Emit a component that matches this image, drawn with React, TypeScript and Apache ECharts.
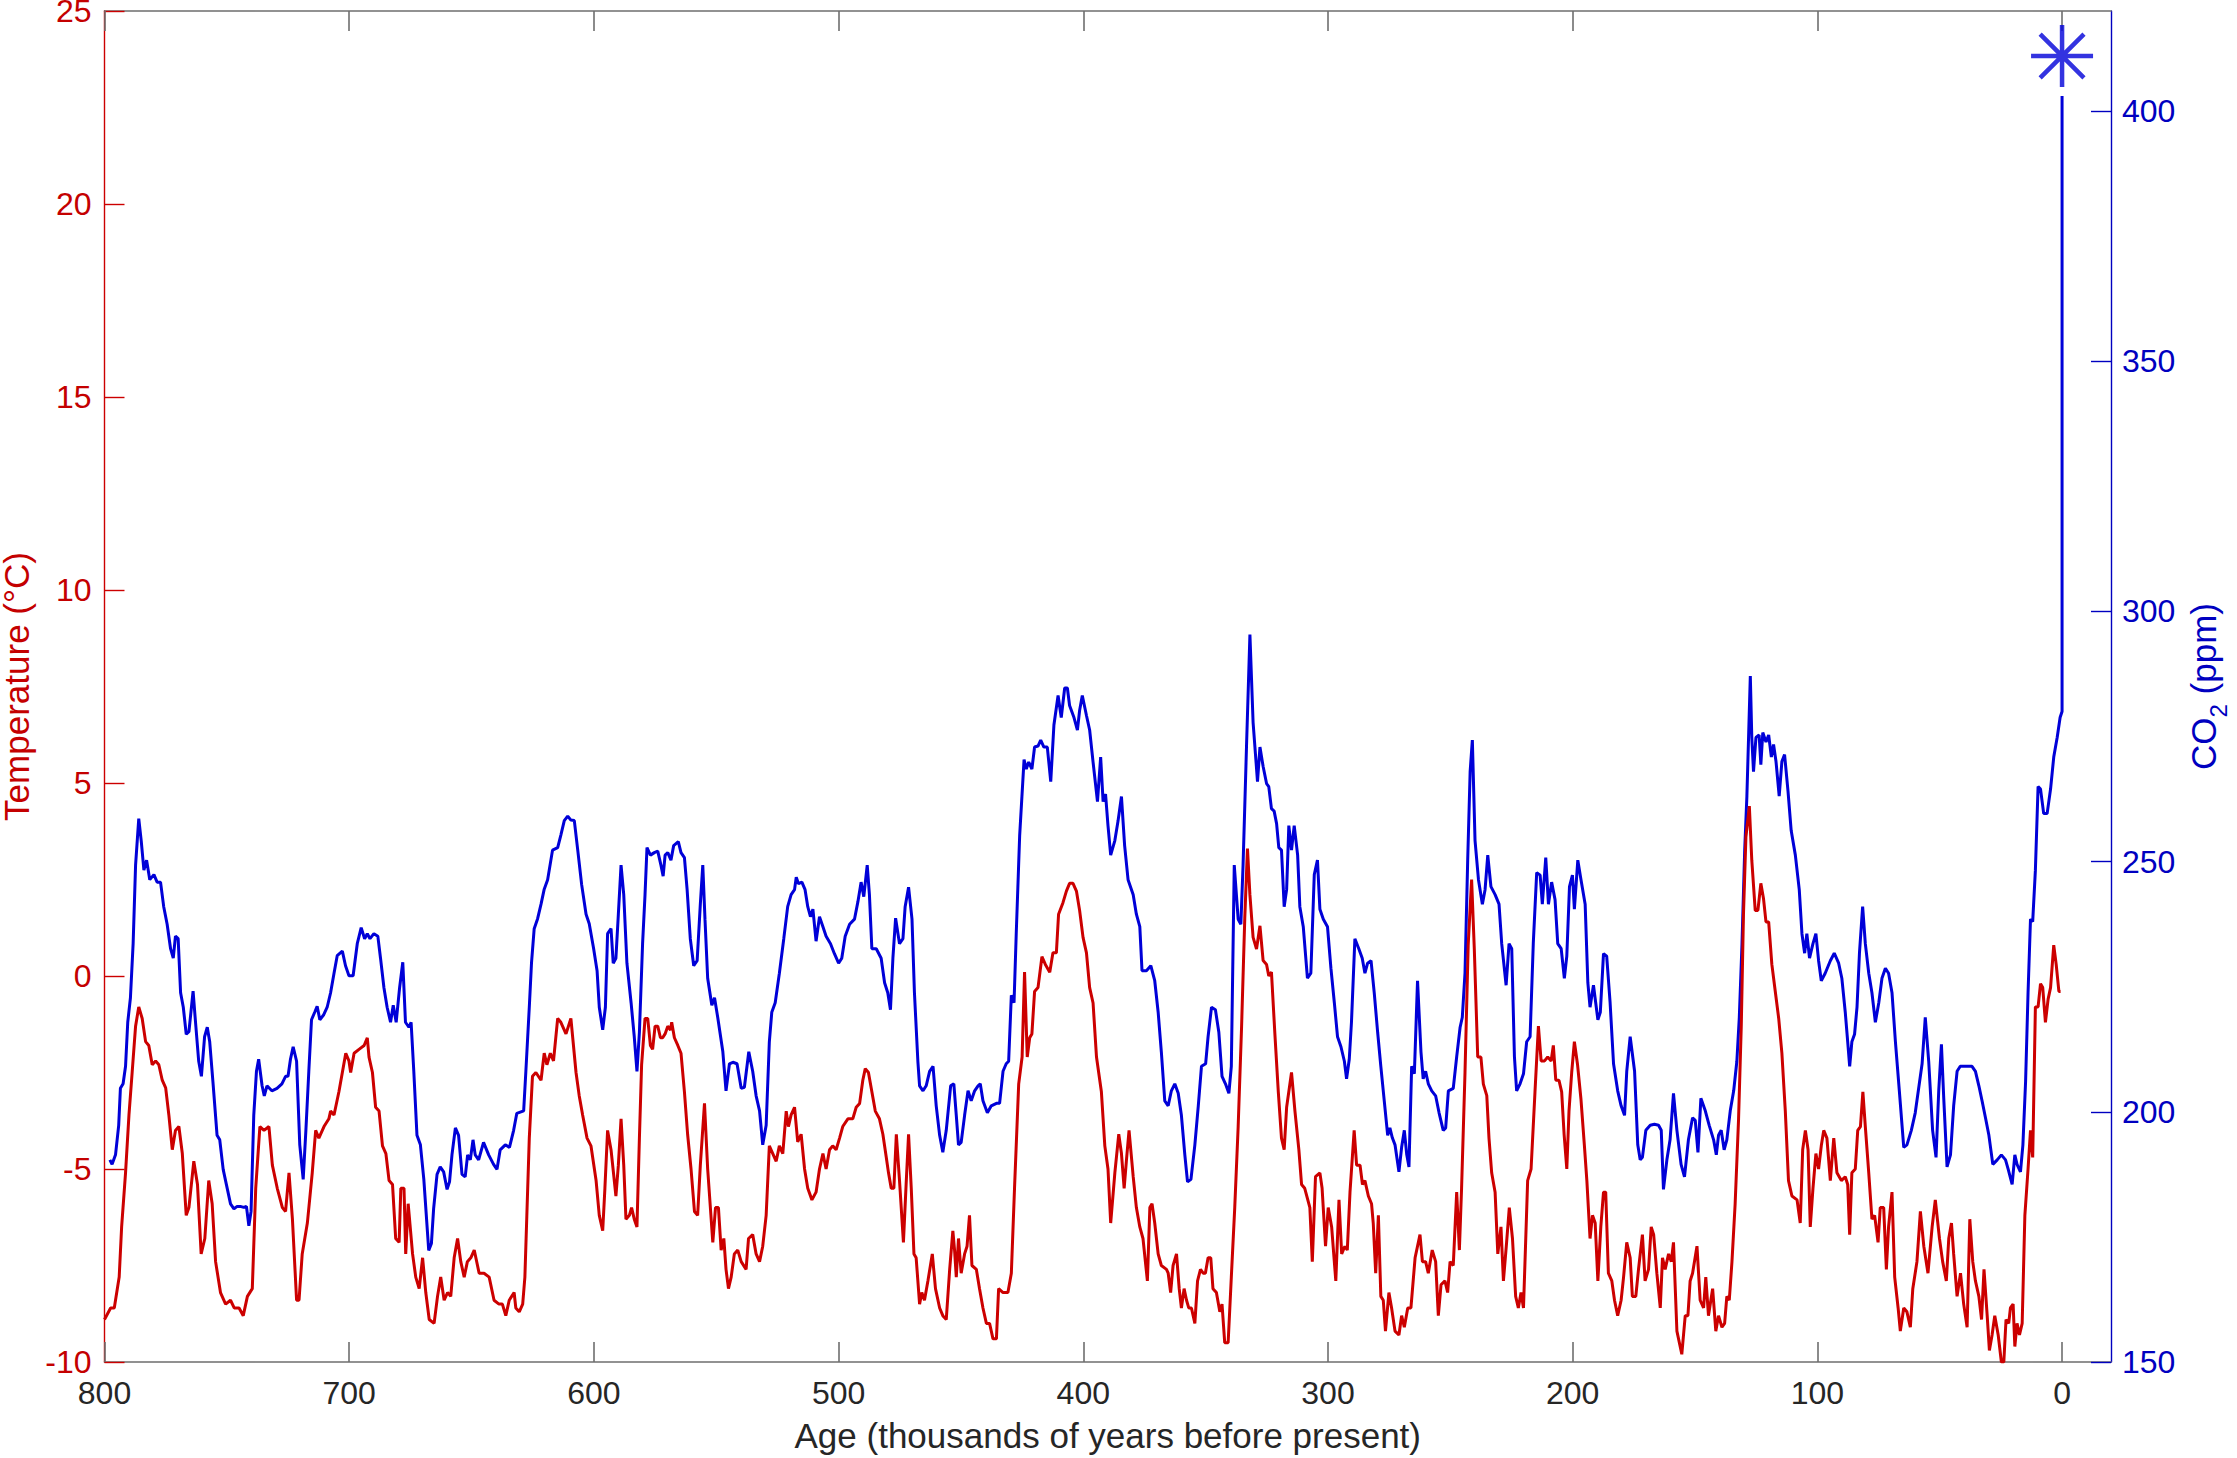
import React, { useEffect, useRef } from "react";
import * as echarts from "echarts";

// ---------- data (age in kyr BP, value) ----------
const xTicks = [0, 100, 200, 300, 400, 500, 600, 700, 800];
const co2Ticks = [150, 200, 250, 300, 350, 400];

const temp800to632 = [
  [800,-8.9],[797.5,-8.6],[796,-8.6],[794,-7.8],[793,-6.5],[791.4,-5.1],[790,-3.6],[788.7,-2.5],[787.3,-1.3],[786,-0.8],[784.6,-1.1],[783.2,-1.7],[781.9,-1.8],[780.5,-2.3],[779.1,-2.2],[777.8,-2.3],[776.4,-2.7],[775,-2.9],[773.7,-3.6],[772.3,-4.5],[771,-4.0],[769.6,-3.9],[768.2,-4.6],[766.6,-6.2],[765.5,-6.0],[763.5,-4.8],[762,-5.4],[760.5,-7.2],[759,-6.8],[757.4,-5.3],[756,-5.9],[754.6,-7.4],[752.6,-8.2],[750.5,-8.5],[748.5,-8.4],[747,-8.6],[745,-8.6],[743.3,-8.8],[741.6,-8.3],[739.6,-8.1],[738.2,-5.5],[736.5,-3.9],[734.8,-4.0],[732.8,-3.9],[731.4,-4.9],[729.4,-5.5],[727.3,-6.0],[726,-6.1],[724.6,-5.1],[723.2,-6.3],[721.5,-8.4],[720.5,-8.4],[719.2,-7.2],[717.1,-6.4],[715.1,-5.1],[713.7,-4.0],[712.4,-4.2],[710.3,-3.9],[708.3,-3.7],[707.6,-3.5],[706.2,-3.6],[704.2,-3.0],[701.4,-2.0],[700.1,-2.2],[699.4,-2.5],[698,-2.0],[696,-1.9],[693.9,-1.8],[692.6,-1.6],[691.9,-2.1],[690.5,-2.5],[689.2,-3.4],[687.8,-3.5],[686.4,-4.4],[685,-4.6],[683.7,-5.3],[682.3,-5.4],[681,-6.8],[679.6,-6.9],[678.9,-5.5],[677.6,-5.5],[676.9,-7.2],[675.9,-5.9],[674.1,-7.2],[672.8,-7.8],[671.4,-8.1],[670,-7.3],[668.7,-8.2],[667.3,-8.9],[665.3,-9.0],[663.9,-8.3],[662.6,-7.8],[661.2,-8.4],[659.8,-8.2],[658.5,-8.3],[657.1,-7.3],[655.7,-6.8],[654.4,-7.4],[653,-7.8],[651.7,-7.4],[650.3,-7.3],[648.9,-7.1],[646.9,-7.7],[644.9,-7.7],[642.8,-7.8],[640.8,-8.4],[638.8,-8.5],[637.4,-8.5],[636,-8.8],[634.6,-8.4],[632.6,-8.2]
];
const temp632to471 = [
  [631.9,-8.6],[630.5,-8.7],[629.1,-8.5],[628.2,-7.8],[627.4,-6.2],[626.4,-4.2],[625.1,-2.6],[623.7,-2.5],[621.6,-2.7],[620.3,-2.0],[619.2,-2.3],[617.8,-2.0],[616.5,-2.2],[614.8,-1.1],[613.5,-1.2],[611.4,-1.5],[609.4,-1.1],[607.3,-2.5],[606,-3.1],[604.6,-3.6],[602.8,-4.2],[601.2,-4.4],[599.1,-5.3],[597.8,-6.2],[596.4,-6.6],[595.5,-5.5],[594.4,-4.0],[593,-4.5],[591,-5.7],[590,-4.9],[588.9,-3.7],[587.8,-4.9],[586.9,-6.3],[585.5,-6.2],[584.6,-6.0],[583.5,-6.3],[582.4,-6.5],[581.4,-4.2],[580.5,-2.3],[579.1,-1.1],[578,-1.1],[576.9,-1.8],[576,-1.9],[575,-1.3],[573.9,-1.3],[572.8,-1.6],[571.9,-1.6],[570.9,-1.5],[569.8,-1.3],[568.7,-1.4],[568.2,-1.2],[567.1,-1.6],[565.7,-1.8],[564.4,-2.0],[563,-3.0],[561.7,-4.1],[560.3,-5.0],[558.9,-6.1],[557.6,-6.2],[556.5,-4.9],[554.8,-3.3],[553.5,-5.0],[551.4,-6.9],[550.3,-6.0],[549.1,-6.0],[548,-7.1],[546.9,-6.8],[546,-7.6],[545,-8.1],[543.9,-7.8],[542.6,-7.2],[541.2,-7.1],[539.8,-7.4],[537.8,-7.6],[536.8,-6.8],[535.1,-6.7],[533.7,-7.2],[532.3,-7.4],[531,-7.0],[529.6,-6.2],[528.3,-4.4],[526.9,-4.6],[525.5,-4.8],[524.2,-4.4],[522.8,-4.6],[521.4,-3.5],[520.5,-3.9],[519.4,-3.6],[518,-3.4],[516.7,-4.3],[515.3,-4.1],[513.9,-5.0],[512.6,-5.5],[510.9,-5.8],[509.2,-5.6],[507.8,-5.0],[506.4,-4.6],[505.1,-5.0],[503.7,-4.5],[502.4,-4.4],[501,-4.5],[499.6,-4.2],[498.3,-3.9],[496.2,-3.7],[494.2,-3.7],[492.8,-3.4],[491.4,-3.3],[490.1,-2.7],[489.1,-2.4],[487.8,-2.5],[486.4,-3.0],[485,-3.5],[483.3,-3.7],[481.9,-4.1],[480.5,-4.7],[479.6,-5.1],[478.5,-5.5],[477.4,-5.5],[476.4,-4.1],[475.1,-5.3],[473.5,-6.9],[472.4,-5.4],[471.4,-4.1]
];
const temp470to305 = [
  [470.3,-5.5],[469.2,-7.2],[468.3,-7.3],[466.9,-8.5],[466,-8.2],[464.9,-8.4],[463.5,-7.9],[461.7,-7.2],[460.4,-8.1],[458.7,-8.6],[457.4,-8.8],[456,-8.9],[454.6,-7.6],[453.3,-6.6],[452.6,-7.1],[451.9,-7.8],[451,-6.8],[449.9,-7.7],[448.5,-7.2],[447.5,-7.0],[446.5,-6.2],[445.5,-7.5],[443.7,-7.6],[442.4,-8.1],[441,-8.6],[439.6,-9.0],[438.3,-9.0],[436.9,-9.4],[435.5,-9.4],[434.6,-8.1],[432.8,-8.2],[430.8,-8.2],[429.4,-7.7],[428.1,-5.5],[426.4,-2.8],[425,-2.1],[424,0.1],[422.9,-2.1],[421.9,-1.6],[421,-1.5],[419.9,-0.4],[418.5,-0.3],[416.9,0.5],[415.5,0.3],[413.7,0.1],[412.4,0.6],[411,0.6],[410.1,1.6],[408.3,1.9],[406.9,2.2],[405.6,2.4],[404.2,2.4],[402.8,2.2],[401.5,1.7],[400.1,1.0],[398.7,0.6],[397.4,-0.3],[396,-0.7],[394.6,-2.1],[392.6,-3.0],[391.2,-4.4],[389.9,-5.0],[388.8,-6.4],[387.1,-5.1],[385.5,-4.1],[384.4,-4.6],[383.3,-5.5],[382.4,-4.8],[381.3,-4.0],[379.6,-5.2],[378.3,-6.0],[376.9,-6.5],[375.6,-6.8],[373.8,-7.9],[372.8,-6.0],[371.9,-5.9],[370.8,-6.4],[369.4,-7.2],[368.1,-7.5],[366,-7.6],[365.3,-7.7],[364.3,-8.2],[363.3,-7.5],[361.9,-7.2],[360.8,-8.1],[359.9,-8.6],[358.8,-8.1],[357.8,-8.4],[356.9,-8.6],[355.8,-8.6],[354.4,-9.0],[353.3,-7.9],[352.1,-7.6],[351,-7.7],[350.1,-7.7],[349,-7.3],[347.9,-7.3],[347,-8.1],[345.6,-8.2],[344.2,-8.7],[343.3,-8.5],[342.2,-9.5],[340.8,-9.5],[339.5,-7.8],[338.1,-6.0],[336.7,-3.9],[335.3,-1.3],[334,1.5],[332.9,3.3],[331.9,2.1],[330.6,1.0],[329.2,0.7],[327.8,1.3],[326.5,0.4],[325.1,0.3],[324.2,0.0],[323.1,0.1],[321.7,-1.5],[320.3,-3.0],[319,-4.2],[317.9,-4.5],[316.9,-3.4],[314.9,-2.5],[313.5,-3.5],[311.9,-4.5],[310.8,-5.4],[309.5,-5.5],[307.4,-6.0],[306.4,-7.4],[305.1,-5.2]
];
const temp303to141 = [
  [303.3,-5.1],[302.4,-5.5],[301,-7.0],[299.9,-6.0],[298.5,-6.5],[296.8,-7.9],[295.5,-5.8],[294.4,-7.2],[293.1,-7.0],[292.1,-7.1],[291,-5.6],[289.3,-4.0],[288.3,-4.9],[286.9,-4.9],[285.9,-5.4],[284.9,-5.3],[283.5,-5.7],[282.2,-5.9],[281.5,-6.4],[280.5,-7.7],[279.4,-6.2],[278.4,-8.3],[277.4,-8.4],[276.5,-9.2],[275.1,-8.2],[274,-8.6],[272.6,-9.2],[271,-9.3],[269.9,-8.8],[268.8,-9.1],[267.4,-8.6],[266.1,-8.6],[264.4,-7.3],[262.4,-6.7],[261.4,-7.4],[260.1,-7.4],[259,-7.7],[257.4,-7.1],[256,-7.4],[254.9,-8.8],[253.8,-8.0],[252.2,-7.9],[251.1,-8.2],[250.1,-7.4],[248.8,-7.5],[247.4,-5.6],[246.3,-7.1],[245.4,-5.5],[244,-2.5],[242.7,0.8],[241.3,2.5],[240.2,0.7],[238.8,-2.1],[237.5,-2.1],[236.5,-2.8],[235.1,-3.1],[234.2,-4.2],[233.1,-5.1],[231.7,-5.6],[230.6,-7.2],[229.3,-6.5],[228.3,-7.9],[227,-6.9],[225.9,-6.0],[224.6,-6.8],[223.3,-8.3],[222.2,-8.6],[221.1,-8.2],[220.1,-8.6],[218.4,-5.3],[217,-5.0],[215.4,-3.0],[214,-1.3],[212.9,-2.2],[211.5,-2.2],[210.2,-2.1],[208.8,-2.2],[207.9,-1.8],[206.9,-2.7],[205.6,-2.7],[204.5,-3.0],[203.5,-4.1],[202.4,-5.0],[201.5,-3.5],[200.4,-2.5],[199.3,-1.7],[198,-2.3],[196.6,-3.2],[195.2,-4.4],[194.2,-5.3],[192.9,-6.8],[191.9,-6.2],[190.8,-6.4],[189.7,-7.9],[188.5,-6.5],[187.4,-5.6],[186.5,-5.6],[185.4,-7.7],[184,-7.9],[182.9,-8.4],[181.6,-8.8],[180.2,-8.4],[179.2,-7.8],[177.9,-6.9],[176.5,-7.3],[175.6,-8.3],[174.2,-8.3],[173.1,-7.6],[171.5,-6.7],[170.4,-7.9],[169,-7.6],[167.9,-6.5],[166.9,-6.7],[165.6,-7.7],[164.2,-8.6],[163.3,-7.3],[162.2,-7.6],[160.8,-7.2],[159.7,-7.4],[158.8,-6.9],[157.4,-9.2],[155.4,-9.8],[154,-8.8],[152.9,-8.8],[152,-7.9],[151,-7.7],[149.2,-7.0],[147.9,-8.4],[146.5,-8.6],[145.6,-7.8],[144.5,-8.8],[142.8,-8.1],[141.5,-9.2]
];
const temp140to0 = [
  [140.4,-8.8],[139,-9.1],[137.9,-9.0],[137,-8.3],[136,-8.4],[134.9,-7.4],[133.6,-5.9],[132.2,-3.7],[131.1,-1.3],[130.2,1.6],[129.2,3.6],[127.8,4.4],[126.8,3.0],[125.4,1.7],[124.3,1.7],[123.1,2.4],[122,2.0],[121,1.4],[119.9,1.4],[118.6,0.3],[117.2,-0.4],[115.8,-1.1],[114.5,-2.0],[113.1,-3.5],[111.8,-5.3],[110.4,-5.7],[108.3,-5.8],[107,-6.4],[106,-4.5],[104.9,-4.0],[103.8,-4.5],[102.9,-6.5],[101.8,-5.5],[100.6,-4.6],[99.5,-5.0],[98.4,-4.4],[97.4,-4.0],[96.1,-4.2],[94.7,-5.3],[93.3,-4.2],[92,-5.1],[90.2,-5.3],[88.6,-5.2],[87.6,-5.4],[86.8,-6.7],[85.9,-5.1],[84.5,-5.0],[83.5,-4.0],[82.4,-3.9],[81.4,-3.0],[80.4,-3.9],[79,-5.1],[77.7,-6.3],[76.6,-6.2],[75.2,-6.9],[74.3,-6.0],[72.9,-6.0],[71.8,-7.6],[70.9,-6.5],[69.5,-5.6],[68.4,-7.8],[67,-8.6],[66.1,-9.2],[64.7,-8.6],[63.4,-8.7],[62,-9.1],[61,-8.1],[59.3,-7.4],[57.9,-6.1],[56.5,-7.0],[54.8,-7.7],[53.1,-6.5],[51.8,-5.8],[50.1,-6.8],[48.8,-7.4],[47.3,-7.9],[46.3,-6.8],[45.2,-6.4],[44.3,-7.2],[42.9,-8.3],[41.5,-7.7],[40.2,-8.5],[38.8,-9.1],[37.7,-6.3],[36.5,-7.4],[35.4,-7.9],[34,-8.3],[32.9,-8.9],[31.9,-7.6],[30.6,-8.8],[29.7,-9.7],[28.6,-9.3],[27.5,-8.8],[26.1,-9.3],[24.8,-10],[23.8,-10],[22.9,-8.9],[21.8,-9.0],[21.1,-8.6],[20,-8.5],[19.3,-9.6],[18.4,-9.0],[17.4,-9.3],[16.3,-9.0],[15.2,-6.2],[13.9,-5.0],[12.9,-4.0],[12,-4.7],[10.9,-0.8],[9.8,-0.8],[8.8,-0.2],[7.9,-0.3],[6.8,-1.2],[5.7,-0.6],[4.7,-0.3],[3.4,0.8],[2.4,0.3],[1.3,-0.4],[0.6,-0.4]
];

const co2798to632 = [
  [797.8,190.4],[796.9,189.5],[795.5,191.4],[794.2,197.3],[793.5,204.7],[792.4,205.6],[791.4,209.1],[790.5,217.9],[789.4,222.8],[788.3,233.6],[787.3,249.3],[786,258.6],[785,254.2],[783.9,248.3],[782.8,250.3],[781.5,246.4],[779.8,247.4],[778.5,245.9],[777.1,245.9],[775.8,241],[774.4,237.5],[773,232.6],[771.9,230.7],[771,235.1],[769.9,234.6],[768.9,223.8],[767.8,220.9],[766.6,215.5],[765.5,216],[763.8,224.1],[762.8,217.9],[761.5,210.1],[760.4,207.1],[759.1,215],[758,216.9],[757,214],[755.7,206.1],[754,195.3],[752.9,194.4],[751.5,188.5],[750.2,185.5],[748.5,181.6],[747.1,180.6],[745.8,181.1],[744.5,181.1],[743.1,180.9],[742,181.1],[741,177.2],[740.1,180.1],[739,199.3],[737.9,208.1],[737,210.5],[735.6,205.2],[734.7,203.2],[733.6,205.2],[731.6,204.2],[729.5,204.7],[727.5,205.6],[726,207.1],[725,207.1],[724,210.5],[722.9,213],[721.5,210.1],[720.2,193.4],[718.8,186.5],[717.7,196.3],[716.5,208.1],[715.4,218.4],[714.1,219.9],[713.1,221.1],[712,218.4],[710.4,219.4],[709,220.9],[707.6,223.8],[706.2,227.7],[704.9,231.2],[702.8,232.1],[701.5,229.2],[700.1,227.2],[698.4,227.2],[696.7,233.6],[695.1,236.8],[693.7,234.6],[692.6,235.6],[691.5,234.6],[689.9,235.6],[688.3,235.1],[687.2,230.7],[685.8,224.8],[684.5,220.9],[683.1,217.9],[682,221.3],[680.8,217.9],[679.4,224.8],[678.1,229.9],[677,217.9],[675.6,216.9],[674.7,217.9],[673.6,208.1],[672.3,195.3],[670.9,193.4],[669.5,186.5],[667.5,172.3],[666.4,173.7],[665.5,180.6],[664.1,187.5],[662.8,189],[661.4,188],[660,184.5],[659,186],[658,191.4],[656.6,196.8],[655.3,195.3],[653.9,187.5],[652.6,187],[651.6,191.4],[650.5,190.4],[649.4,194.4],[648.5,191.4],[647.1,190.4],[645.1,193.9],[643,191.4],[641,189.5],[639.6,188.5],[638.3,192.4],[636.2,193.4],[634.5,192.9],[632.8,196.3],[631.5,199.7]
];
const co2629to470 = [
  [628.7,200.2],[627.8,208.1],[626.4,220.9],[625.5,229.7],[624.4,236.6],[623,238.6],[621.6,241.5],[620.3,244.5],[618.9,246.4],[616.9,252.3],[614.8,252.8],[613.5,255.3],[612.1,258.2],[610.7,259.1],[609.4,258.3],[608,258.2],[606.6,252.3],[605,245.4],[603.2,239.5],[601.9,237.6],[600.1,232.6],[598.7,228.2],[597.8,220.9],[596.4,216.4],[595.3,220.9],[594.4,235.6],[593,236.6],[592.1,229.7],[591,230.7],[590,239.5],[588.9,249.3],[587.8,243.4],[586.5,229.7],[584.8,221.8],[583.5,215],[582.4,208.1],[581.4,215.9],[580.1,233.6],[579.1,243.4],[578.3,252.8],[576.9,251.3],[575.3,251.8],[573.9,252.1],[572.6,249.3],[571.7,247.1],[570.9,251.3],[569.8,251.8],[568.5,250.3],[567.4,253.2],[565.5,254],[564.4,251.8],[563,250.8],[561.9,244.4],[560.6,234.6],[559.2,229.2],[557.8,230.2],[556.5,241.5],[555.5,249.3],[554.6,238.5],[553.5,226.7],[551.8,221.3],[550.7,222.8],[549.4,218.9],[547.3,212],[546,204.2],[544.6,209.6],[543.2,209.9],[541.5,209.6],[539.8,204.7],[538.5,204.9],[536.7,212],[535.1,208.1],[533.7,203.2],[532.3,200.2],[531,193.4],[529.6,197.3],[528.3,214],[527.3,219.9],[525.9,221.8],[524.2,227.7],[522.4,234.6],[520.8,241],[519.4,243.4],[518,244.4],[517.3,246.9],[516.4,245.6],[515,245.9],[513.7,244.4],[512.6,241],[511.5,239],[510.5,240.5],[509.2,234.1],[507.8,239],[506.4,237],[505.1,235.1],[503.3,233.6],[501.7,231.6],[500,229.7],[498.7,230.7],[497.3,235.1],[495.5,237.5],[493.5,238.5],[492.1,242],[490.8,245.9],[489.7,243],[488.3,249.3],[487.4,243.4],[486.4,232.6],[484.6,232.6],[482.6,230.7],[481.2,225.8],[479.9,223.8],[478.8,220.4],[477.8,230.7],[476.7,238.7],[475.1,233.6],[473.7,234.6],[472.8,241],[471.4,244.9],[470,238.5]
];
const co2469to304 = [
  [469,223.8],[467.6,210.1],[466.9,205.2],[465.5,204.2],[464.2,205.2],[462.8,208.1],[461.4,209.1],[460.1,201.2],[458.7,195.3],[457.4,191.9],[456,196.3],[454.2,205.2],[452.9,205.6],[451.9,199.3],[451,193.4],[449.9,193.9],[448.5,199.3],[447.1,204.2],[445.8,202.2],[444.4,204.2],[443,205.2],[442.1,205.6],[441,202.2],[439.2,199.8],[437.6,201.2],[435.5,201.7],[434.2,201.7],[432.8,208.1],[431.5,209.6],[430.5,210.1],[429.4,223.3],[428.3,221.8],[427.4,235.6],[426,255.2],[424.2,270.4],[423.3,268.5],[422.3,269.9],[421,268.5],[419.9,272.9],[418.5,273.1],[417.4,274.3],[416.1,272.9],[414.7,272.9],[413.3,266],[412,277.3],[410.3,283.2],[409,278.8],[407.6,284.7],[406.5,284.7],[405.6,281.2],[403.8,278.8],[402.4,276.3],[401.5,280.2],[400.4,283.2],[398.7,279.2],[397.4,276.3],[396,269.9],[394.2,262],[392.9,270.9],[391.9,262],[390.9,263.5],[389.9,257.2],[388.8,251.3],[387.1,254.2],[385.8,258.1],[384.4,263],[383.1,253.2],[381.7,246.4],[379.6,243.4],[378.3,239.5],[376.9,237],[376,228.2],[374.2,228.2],[372.4,229.2],[370.8,226.2],[369.4,219.9],[368.1,212],[366.7,202.2],[365.3,201.2],[364,204.2],[362.6,205.6],[361.2,203.7],[359.9,199.3],[358.5,191.4],[357.4,186],[356,186.5],[354.4,193.4],[353,201.2],[351.7,209.1],[350,209.6],[349,215],[347.6,220.9],[346,220.4],[344.6,215.9],[343.3,207.1],[341.9,205.6],[340.5,203.7],[339.5,209.1],[338.3,249.3],[336.7,238.5],[335.6,237.5],[334.7,249.3],[333.3,272.9],[331.9,295.4],[330.6,277.8],[328.8,266],[327.8,272.9],[326.5,269],[325.1,265.6],[324.2,265],[323.1,260.6],[322,260.1],[321,257.6],[320.1,252.8],[319,252.3],[317.9,241],[316.9,244.4],[316,257.2],[314.9,252.3],[313.8,257.2],[312.4,251.3],[311.5,241],[310.1,237],[308.4,226.7],[307,227.7],[305.6,247.4],[304.3,250.3]
];
const co2303to141 = [
  [303.3,240.5],[301.9,238.5],[300.2,237],[298.8,228.7],[297.4,221.8],[296.1,215],[294.7,213],[293.3,210.1],[292.4,206.6],[291.3,210.5],[290.4,217.9],[289,234.6],[287.4,232.6],[286,230.7],[284.9,227.7],[283.8,229.7],[282.4,230.2],[281.1,223.8],[279.7,215.9],[278.4,209.1],[277,202.2],[275.6,195.3],[274.7,196.8],[273.7,194.8],[272.6,193.4],[271,188],[269.9,192.9],[268.8,196.3],[267.8,191.4],[266.9,189],[265.8,209.1],[264.7,207.6],[263.4,226.2],[262,212],[261.1,206.6],[260.1,208.1],[259,205.6],[257.6,204.2],[256,203.2],[254.6,199.8],[252.9,196.3],[251.9,196.8],[250.8,204.2],[248.8,204.7],[247.4,211],[246,216.9],[245.1,218.9],[244,227.7],[242.9,250.3],[241.9,268],[241,274.3],[239.9,254.2],[238.5,246.4],[236.9,241.5],[235.8,244.4],[234.7,251.3],[233.4,245],[231.7,243.4],[230.1,241.5],[229,233.6],[227.2,225.3],[226,233.6],[224.9,232.6],[223.8,211],[222.9,204.2],[221.5,205.6],[220.1,207.6],[218.8,214],[217.4,215],[216.1,233.6],[214.7,247.8],[213.3,247.3],[212.4,241.5],[211,250.8],[209.9,241.5],[208.6,245.9],[207.2,242.4],[206.1,233.6],[204.7,232.6],[203.4,226.7],[202.4,231.1],[201.3,245],[200.1,247.3],[199.3,240.5],[197.9,250.3],[196.6,246.4],[194.9,241.5],[193.8,225.8],[192.9,220.9],[191.5,225.3],[189.7,218.4],[188.7,219.9],[187.4,231.6],[186.1,231.1],[184.7,221.8],[183.3,209.6],[181.6,204.2],[180.2,201.2],[178.8,199.3],[177.9,208.1],[176.5,215],[174.7,208.1],[173.4,193.4],[172.4,190.4],[171.5,190.9],[170.1,196.3],[168.3,197.3],[166.6,197.5],[164.9,197.3],[163.8,196.3],[162.9,184.5],[161.5,190.4],[160.2,194.4],[158.8,203.7],[157.4,196.3],[155.7,189.5],[154.3,187],[152.7,194.4],[151,198.8],[149.9,198.3],[148.8,191.9],[147.6,202.7],[145.8,200.2],[144.2,197.3],[142.4,194.4],[141.3,191.4]
];
const co2140to0 = [
  [140.4,195.3],[139.3,196.3],[138.1,192.4],[137,194.4],[135.6,200.2],[134.2,204.2],[132.9,210.1],[131.9,218.9],[130.8,233.6],[129.7,252.3],[128.8,263.1],[127.4,287.1],[126.8,274.8],[126.1,268],[125.1,274.8],[123.8,275.3],[123.1,269.4],[122.3,275.8],[121,273.9],[119.9,275.3],[118.8,270.9],[117.9,273.4],[116.9,270],[115.6,263.1],[114.5,270],[113.4,271.4],[112,264.1],[110.7,256.2],[109,251.3],[107.4,244.4],[106.3,235.6],[105.2,231.7],[104.3,235.6],[103.2,230.7],[101.8,233.6],[100.6,235.6],[99.5,230.2],[98.4,226.2],[96.8,227.7],[94.7,230.2],[93.1,231.7],[91.3,229.7],[90,226.7],[88.6,219.9],[87.6,214],[86.8,209.1],[85.9,214],[84.8,215.5],[83.8,220.9],[82.8,231.7],[81.5,241],[80.4,233.6],[79,227.7],[77.7,223.8],[76.3,217.9],[74.9,221.8],[73.6,226.7],[72.2,228.7],[70.9,227.7],[69.5,223.8],[68.1,214],[66.5,204.2],[64.7,192.9],[63.4,193.4],[61.6,196.3],[60,199.8],[57.2,209.6],[55.9,218.9],[54.5,210.1],[52.9,196.3],[51.5,190.9],[50.4,204.2],[49.3,213.5],[48.4,203.2],[47,189],[45.6,191.4],[44.3,201.2],[42.9,208.1],[41.6,209.1],[39.5,209.1],[36.8,209.1],[35.4,208.1],[34,205.2],[32.7,202.2],[31.3,198.8],[29.9,195.3],[28.3,189.5],[26.5,190.4],[24.8,191.4],[23.1,190.4],[22,188.5],[20.4,185.5],[19.3,191.4],[18.4,189.5],[17,188],[16,193.4],[14.9,206.1],[13.9,223.8],[12.9,238.5],[12,238],[10.9,248.3],[9.8,265],[8.8,264.5],[7.5,259.6],[6.1,259.6],[4.7,264.5],[3.4,270.9],[2,274.8],[0.8,278.8],[0,280],[0,403]
];
const co2Modern = [[0, 411]];

// ---------- styles ----------
const FONT = '"Liberation Sans", Arial, Helvetica, sans-serif';
const RED = "#CC0000";
const RED_TEXT = "#C40000";
const BLUE = "#0000D8";
const BLUE_TEXT = "#0000C0";
const GRAY = "#6e6e6e";
const DARK = "#262626";
const STAR_PATH =
  "path://M0,-1L0,1M-1,0L1,0M-0.7071,-0.7071L0.7071,0.7071M-0.7071,0.7071L0.7071,-0.7071";

export default function App() {
  const ref = useRef<HTMLDivElement>(null);

  useEffect(() => {
    if (!ref.current) return;
    const chart = echarts.init(ref.current, undefined, { renderer: "svg" });
    const tempData = [
      ...temp800to632,
      ...temp632to471,
      ...temp470to305,
      ...temp303to141,
      ...temp140to0,
    ];
    const co2Data = [
      ...co2798to632,
      ...co2629to470,
      ...co2469to304,
      ...co2303to141,
      ...co2140to0,
    ];
    chart.setOption({
      animation: false,
      backgroundColor: "#ffffff",
      textStyle: { fontFamily: FONT },
      grid: {
        left: 104.5,
        right: 126,
        top: 11,
        bottom: 96,
        containLabel: false,
        outerBoundsMode: "none",
      },
      xAxis: [
        {
          type: "value",
          position: "bottom",
          inverse: true,
          min: -20,
          max: 800,
          axisLine: { show: true, onZero: false, lineStyle: { color: GRAY, width: 1.6 } },
          axisTick: {
            show: true,
            inside: true,
            length: 20,
            customValues: xTicks,
            lineStyle: { color: GRAY, width: 1.6 },
          },
          axisLabel: {
            customValues: xTicks,
            color: DARK,
            fontSize: 32,
            margin: 15,
            fontFamily: FONT,
          },
          splitLine: { show: false },
          name: "Age (thousands of years before present)",
          nameLocation: "middle",
          nameGap: 56,
          nameTextStyle: { color: DARK, fontSize: 35, fontFamily: FONT },
        },
        {
          type: "value",
          position: "top",
          inverse: true,
          min: -20,
          max: 800,
          axisLine: { show: true, onZero: false, lineStyle: { color: GRAY, width: 1.6 } },
          axisTick: {
            show: true,
            inside: true,
            length: 20,
            customValues: xTicks,
            lineStyle: { color: GRAY, width: 1.6 },
          },
          axisLabel: { show: false },
          splitLine: { show: false },
        },
      ],
      yAxis: [
        {
          type: "value",
          position: "left",
          min: -10,
          max: 25,
          interval: 5,
          axisLine: { show: true, onZero: false, lineStyle: { color: RED, width: 1.4 } },
          axisTick: { show: true, inside: true, length: 20, lineStyle: { color: RED, width: 1.4 } },
          axisLabel: { color: RED_TEXT, fontSize: 32, lineHeight: 20, margin: 13, fontFamily: FONT },
          splitLine: { show: false },
          name: "Temperature (°C)",
          nameLocation: "middle",
          nameRotate: 90,
          nameGap: 62,
          nameTextStyle: { color: RED_TEXT, fontSize: 35, lineHeight: 34, fontFamily: FONT },
        },
        {
          type: "value",
          position: "right",
          min: 150,
          max: 420,
          axisLine: { show: true, onZero: false, lineStyle: { color: BLUE_TEXT, width: 1.4 } },
          axisTick: {
            show: true,
            inside: true,
            length: 20,
            customValues: co2Ticks,
            lineStyle: { color: BLUE_TEXT, width: 1.4 },
          },
          axisLabel: {
            customValues: co2Ticks,
            color: BLUE_TEXT,
            fontSize: 32,
            lineHeight: 20,
            margin: 11,
            fontFamily: FONT,
          },
          splitLine: { show: false },
          name: "{n|CO}{s|2}{n| (ppm)}",
          nameLocation: "middle",
          nameRotate: 90,
          nameGap: 73,
          nameTextStyle: {
            color: BLUE_TEXT,
            fontSize: 35,
            fontFamily: FONT,
            rich: {
              n: { fontSize: 35, color: BLUE_TEXT, fontFamily: FONT, verticalAlign: "top", lineHeight: 40 },
              s: {
                fontSize: 24,
                color: BLUE_TEXT,
                fontFamily: FONT,
                verticalAlign: "top",
                padding: [20, 0, 0, 0],
              },
            },
          },
        },
      ],
      series: [
        {
          name: "CO2",
          type: "line",
          xAxisIndex: 0,
          yAxisIndex: 1,
          data: co2Data,
          showSymbol: false,
          symbol: "none",
          lineStyle: { color: BLUE, width: 3 },
          z: 2,
        },
        {
          name: "Temperature",
          type: "line",
          xAxisIndex: 0,
          yAxisIndex: 0,
          data: tempData,
          showSymbol: false,
          symbol: "none",
          lineStyle: { color: RED, width: 3 },
          z: 3,
        },
        {
          name: "Modern CO2",
          type: "scatter",
          xAxisIndex: 0,
          yAxisIndex: 1,
          data: co2Modern,
          symbol: STAR_PATH,
          symbolSize: 62,
          itemStyle: { color: "transparent", borderColor: BLUE, borderWidth: 4.5 },
          z: 4,
        },
      ],
    });
    return () => chart.dispose();
  }, []);

  return (
    <div
      ref={ref}
      style={{
        position: "fixed",
        left: 0,
        top: 0,
        width: "2237px",
        height: "1458px",
        background: "#ffffff",
      }}
    />
  );
}
